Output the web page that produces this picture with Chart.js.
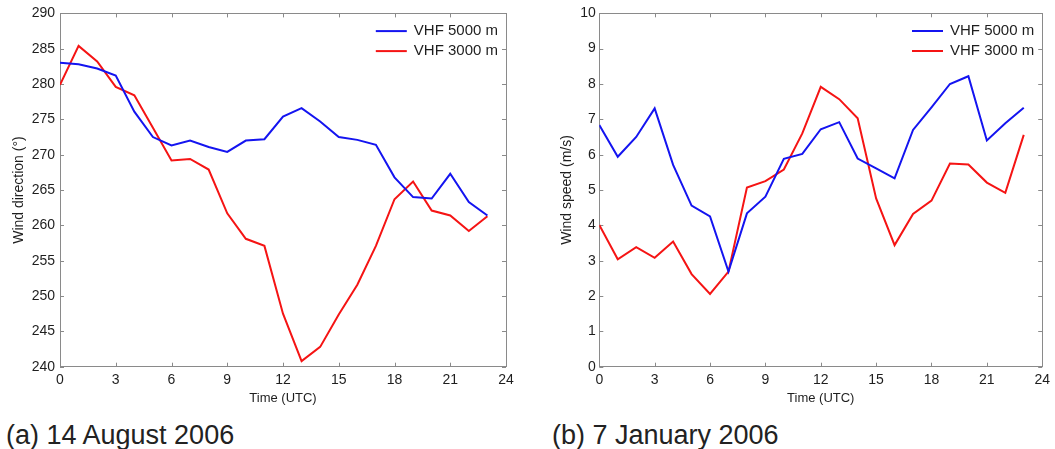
<!DOCTYPE html>
<html>
<head>
<meta charset="utf-8">
<script src="https://cdn.jsdelivr.net/npm/chart.js@4/dist/chart.umd.min.js"></script>
<style>
  html, body { margin: 0; padding: 0; background: #fff; width: 1055px; height: 449px; overflow: hidden; }
  .box { position: absolute; top: 0; height: 412px; }
  .cap { position: absolute; top: 420px; font: 27px "Liberation Sans", Arial, sans-serif; color: #222; line-height: 30px; white-space: nowrap; }
</style>
</head>
<body>
<div class="box" style="left:0;width:530px"><canvas id="chDir"></canvas></div>
<div class="box" style="left:530px;width:525px"><canvas id="chSpd"></canvas></div>
<div class="cap" style="left:6px">(a) 14 August 2006</div>
<div class="cap" style="left:552px">(b) 7 January 2006</div>
<script>
// hourly values
var HOURS = [0, 1, 2, 3, 4, 5, 6, 7, 8, 9, 10, 11, 12, 13, 14, 15, 16, 17, 18, 19, 20, 21, 22, 23];
var SERIES_NAMES = ["VHF 5000 m", "VHF 3000 m"];

// (a) 14 August 2006, wind direction (deg)
var DIR_5000 = [283.0, 282.8, 282.2, 281.2, 276.1, 272.5, 271.3, 272.0, 271.1, 270.4, 272.0, 272.2, 275.4, 276.6,
                274.7, 272.5, 272.1, 271.4, 266.8, 264.0, 263.8, 267.3, 263.3, 261.4];
var DIR_3000 = [279.9, 285.4, 283.2, 279.6, 278.4, 273.8, 269.2, 269.4, 267.9, 261.7, 258.1, 257.1, 247.5, 240.8,
                242.8, 247.4, 251.6, 257.1, 263.7, 266.2, 262.1, 261.4, 259.2, 261.3];

// (b) 7 January 2006, wind speed (m/s)
var SPD_5000 = [6.84, 5.94, 6.50, 7.31, 5.71, 4.56, 4.25, 2.69, 4.34, 4.81, 5.88, 6.02, 6.72, 6.92,
                5.89, 5.61, 5.33, 6.70, 7.34, 8.00, 8.22, 6.40, 6.89, 7.33];
var SPD_3000 = [4.01, 3.04, 3.38, 3.08, 3.54, 2.62, 2.06, 2.69, 5.07, 5.25, 5.58, 6.60, 7.92, 7.57,
                7.03, 4.76, 3.44, 4.32, 4.70, 5.75, 5.72, 5.21, 4.92, 6.56];

var BLUE = "#1414f0", RED = "#f51414", FRAME = "#8a8a8a", INK = "#1e1e1e";
var FONT = "'Liberation Sans', Arial, Helvetica, sans-serif";

Chart.defaults.font.family = FONT;
Chart.defaults.font.size = 14;
Chart.defaults.color = INK;

function pts(vals) { return HOURS.map(function (h, i) { return { x: h, y: vals[i] }; }); }

// box round the plot with short inward ticks on all four sides
var framePlugin = {
  id: "frame",
  beforeDatasetsDraw: function (chart) {
    var a = chart.chartArea, ctx = chart.ctx, xs = chart.scales.x, ys = chart.scales.y, L = 4;
    ctx.save();
    ctx.strokeStyle = FRAME; ctx.lineWidth = 1;
    ctx.strokeRect(Math.round(a.left) + 0.5, Math.round(a.top) + 0.5, Math.round(a.right - a.left), Math.round(a.bottom - a.top));
    ctx.beginPath();
    xs.ticks.forEach(function (t, i) {
      var px = Math.round(xs.getPixelForTick(i)) + 0.5;
      ctx.moveTo(px, a.bottom); ctx.lineTo(px, a.bottom - L);
      ctx.moveTo(px, a.top); ctx.lineTo(px, a.top + L);
    });
    ys.ticks.forEach(function (t, i) {
      var py = Math.round(ys.getPixelForTick(i)) + 0.5;
      ctx.moveTo(a.left, py); ctx.lineTo(a.left + L, py);
      ctx.moveTo(a.right, py); ctx.lineTo(a.right - L, py);
    });
    ctx.stroke();
    ctx.restore();
  }
};

// legend in the top right corner of the plot, line sample + label
var legendPlugin = {
  id: "cornerLegend",
  afterDatasetsDraw: function (chart) {
    var a = chart.chartArea, ctx = chart.ctx;
    ctx.save();
    ctx.font = "15px " + FONT;
    ctx.textBaseline = "middle";
    ctx.fillStyle = INK;
    chart.data.datasets.forEach(function (ds, i) {
      var y = a.top + 17.7 + i * 20;
      var w = ctx.measureText(ds.label).width;
      var tx = a.right - 8 - w;
      ctx.fillText(ds.label, tx, y);
      ctx.strokeStyle = ds.borderColor; ctx.lineWidth = 2;
      ctx.beginPath(); ctx.moveTo(tx - 38, y); ctx.lineTo(tx - 7, y); ctx.stroke();
    });
    ctx.restore();
  }
};

function makeChart(id, a, b, yMin, yMax, yStep, yTitle, o) {
  return new Chart(document.getElementById(id), {
    type: "line",
    data: {
      datasets: [
        { label: SERIES_NAMES[0], data: pts(a), borderColor: BLUE, borderWidth: 2, pointRadius: 0, tension: 0, fill: false },
        { label: SERIES_NAMES[1], data: pts(b), borderColor: RED, borderWidth: 2, pointRadius: 0, tension: 0, fill: false }
      ]
    },
    options: {
      responsive: true, maintainAspectRatio: false, animation: false,
      layout: { padding: { top: 13.3, right: o.right, left: 0, bottom: 0 } },
      plugins: { legend: { display: false }, tooltip: { enabled: false } },
      scales: {
        x: {
          type: "linear", min: 0, max: 24,
          grid: { display: false, drawTicks: false }, border: { display: false },
          ticks: { stepSize: 3, padding: 5, maxRotation: 0 },
          title: { display: true, text: "Time (UTC)", font: { size: 13 }, padding: { top: 0, bottom: 6 } },
          afterFit: function (s) { s.height = 45.3; }
        },
        y: {
          min: yMin, max: yMax,
          grid: { display: false, drawTicks: false }, border: { display: false },
          ticks: { stepSize: yStep, padding: o.tickPad },
          title: { display: true, text: yTitle, font: { size: 14 }, padding: { top: o.titlePad, bottom: 0 } },
          afterFit: function (s) { s.width = o.left; }
        }
      }
    },
    plugins: [framePlugin, legendPlugin]
  });
}

makeChart("chDir", DIR_5000, DIR_3000, 240, 290, 5, "Wind direction (°)", { left: 60, right: 24, tickPad: 5, titlePad: 10.6 });
makeChart("chSpd", SPD_5000, SPD_3000, 0, 10, 1, "Wind speed (m/s)", { left: 69.3, right: 9.3, tickPad: 3.5, titlePad: 28.3 });
</script>
</body>
</html>
